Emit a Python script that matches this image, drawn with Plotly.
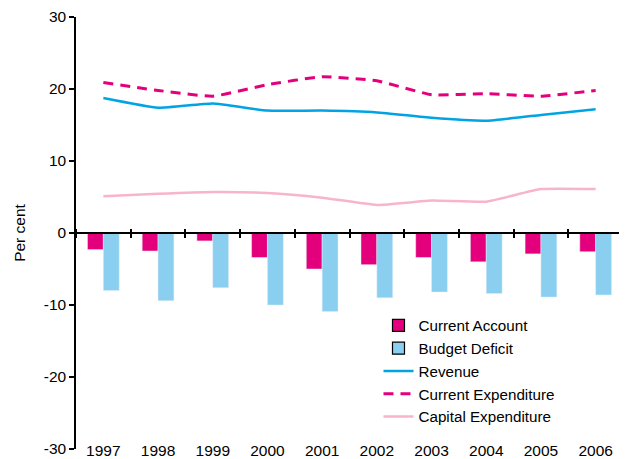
import plotly.graph_objects as go

years = ["1997", "1998", "1999", "2000", "2001", "2002", "2003", "2004", "2005", "2006"]
current_account = [-2.3, -2.5, -1.1, -3.4, -5.0, -4.4, -3.4, -4.0, -2.9, -2.6]
budget_deficit = [-8.0, -9.4, -7.6, -10.0, -10.9, -9.0, -8.2, -8.4, -8.9, -8.6]
revenue = [18.75, 17.4, 18.0, 17.0, 17.0, 16.75, 16.0, 15.6, 16.4, 17.2]
current_exp = [20.9, 19.8, 19.0, 20.6, 21.7, 21.15, 19.2, 19.35, 19.0, 19.8]
capital_exp = [5.1, 5.45, 5.7, 5.55, 4.9, 3.9, 4.5, 4.35, 6.1, 6.1]
y_ticks = [-30, -20, -10, 0, 10, 20, 30]
y_labels = ["-30", "-20", "-10", "0", "10", "20", "30"]

MAGENTA = "#E4007C"
LIGHTBLUE = "#8ACEF0"
BLUE = "#00A3E4"
PINK = "#F8B4CB"
FONT = "Liberation Sans, Arial, sans-serif"

bw = 0.29
fig = go.Figure()
fig.add_trace(go.Bar(x=years, y=current_account, name="Current Account",
                     marker_color=MAGENTA, width=bw, offset=-bw, showlegend=False))
fig.add_trace(go.Bar(x=years, y=budget_deficit, name="Budget Deficit",
                     marker_color=LIGHTBLUE, width=bw, offset=0, showlegend=False))
# legend entries for the bars (with a dark outline like the original)
fig.add_trace(go.Bar(x=[None], y=[None], name="Current Account",
                     marker=dict(color=MAGENTA, line=dict(color="black", width=1.2))))
fig.add_trace(go.Bar(x=[None], y=[None], name="Budget Deficit",
                     marker=dict(color=LIGHTBLUE, line=dict(color="black", width=1.2))))

fig.add_trace(go.Scatter(x=years, y=revenue, name="Revenue", mode="lines",
                         line=dict(color=BLUE, width=2.5, shape="spline", smoothing=0.4)))
fig.add_trace(go.Scatter(x=years, y=current_exp, name="Current Expenditure", mode="lines",
                         line=dict(color=MAGENTA, width=3, dash="10px,7px",
                                   shape="spline", smoothing=0.4)))
fig.add_trace(go.Scatter(x=years, y=capital_exp, name="Capital Expenditure", mode="lines",
                         line=dict(color=PINK, width=2.5, shape="spline", smoothing=0.4)))

# invisible helpers so the zero-line axes get drawn
fig.add_trace(go.Scatter(x=years, y=[None] * len(years), xaxis="x2",
                         showlegend=False, hoverinfo="skip"))
fig.add_trace(go.Scatter(x=years, y=[None] * len(years), xaxis="x3",
                         showlegend=False, hoverinfo="skip"))

# page body has an 8px margin, so the figure is 8px smaller than the window
fig.update_layout(
    width=619, height=451,
    margin=dict(l=68, r=4, t=9, b=10),
    plot_bgcolor="white", paper_bgcolor="white",
    font=dict(family=FONT, size=15.5, color="black"),
    barmode="overlay",
    showlegend=True,
    legend=dict(x=0.553, y=0.324, xanchor="left", yanchor="top",
                font=dict(size=15.2), bgcolor="rgba(0,0,0,0)",
                tracegroupgap=0, itemwidth=30),
    xaxis=dict(type="category", categoryarray=years, range=[-0.5, 9.5],
               showline=False, ticks="", ticklabelstandoff=-10,
               ticklabeloverflow="allow", automargin=False,
               showgrid=False, zeroline=False),
    xaxis2=dict(type="category", categoryarray=years, range=[-0.5, 9.5],
                overlaying="x", anchor="free", position=0.5, side="bottom",
                showline=True, linecolor="black", linewidth=1.5, automargin=False,
                ticks="outside", tickson="boundaries", ticklen=4, tickwidth=1.5,
                tickcolor="black", showticklabels=False, showgrid=False),
    xaxis3=dict(type="category", categoryarray=years, range=[-0.5, 9.5],
                overlaying="x", anchor="free", position=0.5, side="top",
                showline=False, ticks="outside", tickson="boundaries", ticklen=4,
                automargin=False,
                tickwidth=1.5, tickcolor="black", showticklabels=False, showgrid=False),
    yaxis=dict(range=[-30, 30], tickvals=y_ticks, ticktext=y_labels,
               showline=True, linecolor="black", linewidth=1.5, automargin=False,
               ticks="outside", ticklen=5, tickwidth=1.5, tickcolor="black",
               showgrid=False, zeroline=False,
               title=dict(text="Per cent", font=dict(size=15.5), standoff=14)),
)

fig.write_html("out.html")
